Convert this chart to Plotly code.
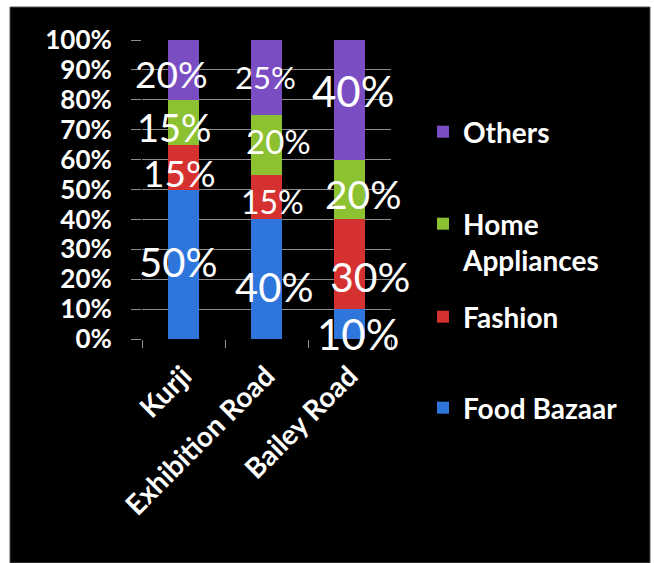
import plotly.graph_objects as go

# Store locations and the share of each department (percent)
locations = ["Kurji", "Exhibition Road", "Bailey Road"]
food_bazaar = [50, 40, 10]
fashion = [15, 15, 30]
home_appliances = [15, 20, 20]
others = [20, 25, 40]

series_names = ["Food Bazaar", "Fashion", "Home Appliances", "Others"]
legend_names = ["Food Bazaar", "Fashion", "Home<br>Appliances", "Others"]
series_values = [food_bazaar, fashion, home_appliances, others]
series_colors = ["#2F76DC", "#D63131", "#8CC232", "#7A4DC3"]

y_ticks = list(range(0, 101, 10))

# Per-label text size and nudges (px), ordered [series][location]
label_sizes = [
    [40, 40, 42],
    [37, 32, 41],
    [38, 33, 39],
    [37, 31, 42],
]
label_dx = [
    [-6, 7, 8],
    [-4, 6, 20],
    [-9, 12, 14],
    [-12, -1, 3],
]
label_dy = [
    [2, -8, -10],
    [-5, -5, -12],
    [-5, 4, -4],
    [-4, 0, 9],
]

W, H = 654, 563
L, R, T, B = 142, 263, 40, 224
plot_w, plot_h = W - L - R, H - T - B


def px_x(px):
    return (px - L) / plot_w


def px_y(py):
    return (H - B - py) / plot_h


fig = go.Figure()
legend_ids = ["legend", "legend2", "legend3", "legend4"]
for i, (name, vals, color) in enumerate(zip(series_names, series_values, series_colors)):
    fig.add_trace(go.Bar(
        x=locations, y=vals, name=legend_names[i],
        marker=dict(color=color, line=dict(width=0)),
        width=0.38,
        legend=legend_ids[i],
        hovertemplate=name + ": %{y}%<extra>%{x}</extra>",
    ))

# Value labels centred on each stacked segment
annotations = []
for i, vals in enumerate(series_values):
    for j, loc in enumerate(locations):
        base = sum(series_values[k][j] for k in range(i))
        annotations.append(dict(
            x=loc, y=base + vals[j] / 2, xref="x", yref="y",
            text=f"{vals[j]}%", showarrow=False,
            xshift=label_dx[i][j], yshift=label_dy[i][j],
            font=dict(family="Lato", size=label_sizes[i][j], color="white"),
        ))

legend_font = dict(family="Lato", size=28, color="white", weight="bold")
legend_centres = [408, 317, 242, 132]


def legend_box(cy):
    return dict(
        x=423 / W, y=1 - cy / H, xref="container", yref="container",
        xanchor="left", yanchor="middle",
        bgcolor="rgba(0,0,0,0)", borderwidth=0,
        font=legend_font, valign="top", itemclick=False, itemdoubleclick=False,
    )


fig.update_layout(
    width=W, height=H,
    margin=dict(l=L, r=R, t=T, b=B, autoexpand=False),
    paper_bgcolor="white",
    plot_bgcolor="#3B3B3B",
    barmode="stack",
    showlegend=True,
    legend=legend_box(legend_centres[0]),
    legend2=legend_box(legend_centres[1]),
    legend3=legend_box(legend_centres[2]),
    legend4=legend_box(legend_centres[3]),
    annotations=annotations,
    shapes=[dict(
        type="rect", xref="paper", yref="paper", layer="below",
        x0=px_x(10), x1=px_x(650), y0=px_y(563), y1=px_y(7),
        fillcolor="black", line=dict(color="#555555", width=1),
    )],
    xaxis=dict(
        range=[-0.5, 2.5],
        tickangle=-45, tickson="boundaries", ticks="outside", ticklen=8,
        tickcolor="#8E8E8E", showgrid=False, showline=False, zeroline=False,
        ticklabelstandoff=14,
        tickfont=dict(family="Lato", size=28, color="white", weight="bold"),
        fixedrange=True,
    ),
    yaxis=dict(
        range=[0, 100], tickvals=y_ticks, ticktext=[f"{v}%" for v in y_ticks],
        ticks="outside", ticklen=10, tickcolor="#8E8E8E",
        ticklabelstandoff=14,
        showgrid=True, gridcolor="#8E8E8E", gridwidth=1,
        zeroline=False, showline=False,
        tickfont=dict(family="Lato", size=26, color="white", weight="bold"),
        fixedrange=True,
    ),
)

fig.write_html("out.html")
